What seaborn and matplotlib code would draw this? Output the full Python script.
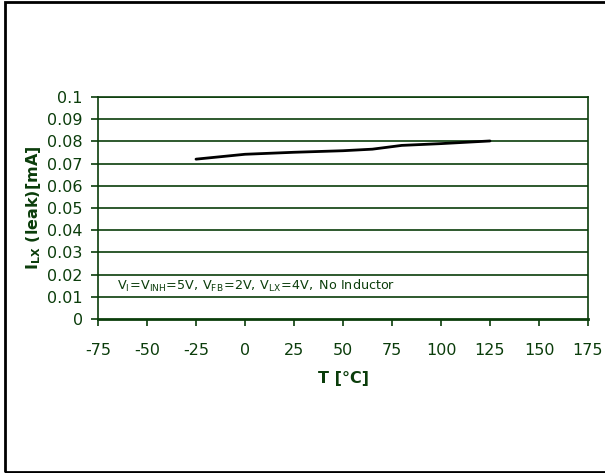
import matplotlib
matplotlib.use("Agg")
import matplotlib.pyplot as plt
import seaborn as sns
import pandas as pd
from matplotlib.patches import Rectangle

temps = [-25, 0, 25, 50, 65, 80, 100, 125]
leak = [0.0720, 0.0742, 0.0751, 0.0758, 0.0765, 0.0782, 0.0790, 0.0802]
xticks = [-75, -50, -25, 0, 25, 50, 75, 100, 125, 150, 175]
yticks = [0, 0.01, 0.02, 0.03, 0.04, 0.05, 0.06, 0.07, 0.08, 0.09, 0.1]
ytick_labels = ["0", "0.01", "0.02", "0.03", "0.04", "0.05", "0.06", "0.07", "0.08", "0.09", "0.1"]

sns.set_style("white")
plt.rcParams['font.family'] = ['DejaVu Sans']
plt.rcParams['mathtext.fontset'] = 'dejavusans'

green = '#0b3d0b'
df = pd.DataFrame({'T': temps, 'I': leak})

fig = plt.figure(figsize=(6.05, 4.73), dpi=100)
ax = fig.add_axes([98/605, 1-319/473, 490/605, 222/473])

for y in yticks[1:]:
    ax.axhline(y, color=green, lw=1.2, zorder=1)

sns.lineplot(data=df, x='T', y='I', ax=ax, color='black', lw=2, zorder=3)

ax.set_xlim(-75, 175)
ax.set_ylim(0, 0.1)
ax.set_xticks(xticks)
ax.set_xticklabels([str(t) for t in xticks])
ax.set_yticks(yticks)
ax.set_yticklabels(ytick_labels)
ax.tick_params(axis='both', colors=green, labelcolor=green, labelsize=11.5,
               direction='out', length=5, width=1.2, bottom=True, left=True)
ax.tick_params(axis='x', pad=12)
ax.tick_params(axis='y', pad=6)
for s in ax.spines.values():
    s.set_color(green)
    s.set_linewidth(1.2)
ax.spines['bottom'].set_linewidth(2)

ax.set_xlabel('T [°C]', color=green, fontsize=11.5, fontweight='bold', labelpad=10)
ax.set_ylabel(r'$\mathbf{I_{LX}}$ (leak)[mA]', color=green, fontsize=11.5, fontweight='bold', labelpad=3)

ax.text(-65.5, 0.0149,
        r'$\mathregular{V_I\!=\!V_{INH}\!=\!5V,\!\ V_{FB}\!=\!2V,\!\ V_{LX}\!=\!4V,}$ No Inductor',
        color=green, fontsize=9.2, va='center', ha='left')

fig.patches.append(Rectangle((5/605, 1/473), 2, 470/473, transform=fig.transFigure,
                             fill=False, edgecolor='black', lw=2))

fig.savefig('out.png', dpi=100)
